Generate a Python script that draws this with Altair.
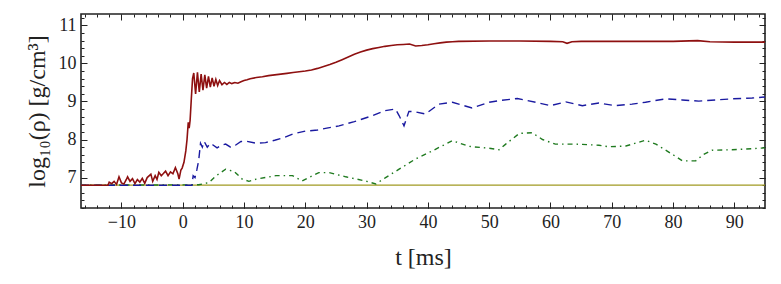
import altair as alt
import pandas as pd

# ---- data ----
red_t = [-16.6, -12.2, -12.0, -11.6, -11.2, -10.8, -10.4, -10.0, -9.6, -9.2, -9.0, -8.6, -8.2, -7.8,
         -7.4, -7.0, -6.6, -6.2, -5.8, -5.2, -4.9, -4.5, -4.2, -3.9, -3.5, -3.2, -2.8, -2.4, -2.0,
         -1.6, -1.2, -0.8, -0.6, -0.3, -0.1, 0.2, 0.5, 0.7, 0.9, 1.05, 1.2, 1.4, 1.6, 1.8, 2.1,
         2.4, 2.7, 3.0, 3.3, 3.6, 3.9, 4.2, 4.5, 4.8, 5.1, 5.4, 5.7, 6.0, 6.4, 6.8, 7.2, 7.6,
         8.0, 8.5, 9.0, 9.5, 10, 10.5, 11, 12, 13, 14, 15, 16, 17, 18, 19, 20, 21, 22, 23, 24, 25,
         26, 27, 28, 29, 30, 31, 32, 33, 34, 35, 36, 37, 38, 39, 40, 41, 42, 43, 44, 45, 50, 55,
         60, 62, 62.7, 63.5, 65, 70, 75, 80, 84, 86, 90, 95]
red_v = [6.8, 6.8, 6.88, 6.84, 6.9, 6.82, 7.02, 6.86, 6.83, 6.95, 7.02, 6.9, 6.97, 6.84,
         6.95, 6.88, 6.98, 6.85, 7.0, 7.09, 6.9, 7.05, 6.95, 7.14, 7.05, 7.1, 7.17, 7.05, 7.15,
         7.1, 7.26, 7.1, 6.96, 7.2, 7.25, 7.4, 7.7, 8.0, 8.45, 8.3, 8.5, 9.07, 9.6, 9.75, 9.2,
         9.77, 9.25, 9.72, 9.3, 9.7, 9.35, 9.66, 9.38, 9.62, 9.4, 9.58, 9.42, 9.55, 9.44, 9.5,
         9.45, 9.5, 9.47, 9.5, 9.48, 9.52, 9.55, 9.57, 9.6, 9.63, 9.65, 9.68, 9.7, 9.72, 9.74,
         9.76, 9.78, 9.8, 9.83, 9.87, 9.92, 9.97, 10.03, 10.1, 10.17, 10.24, 10.3, 10.35, 10.39,
         10.42, 10.45, 10.47, 10.49, 10.5, 10.51, 10.46, 10.47, 10.49, 10.52, 10.54, 10.56, 10.57,
         10.58, 10.59, 10.59, 10.58, 10.57, 10.53, 10.57, 10.58, 10.58, 10.58, 10.58, 10.6, 10.57,
         10.56, 10.56]

blue_t = [-16.6, 1.5, 1.7, 2.0, 2.3, 2.6, 2.9, 3.2, 3.5, 4.0, 4.5, 5.0, 5.6, 6.3, 7.0, 7.8, 8.6,
          9.5, 10.5, 12, 13.5, 15, 16.5, 18, 20, 22, 23.5, 25.5, 28, 31, 33, 34.7, 35.3, 36.1,
          36.9, 37.9, 39.6, 41.8, 44, 47.2, 50, 52, 54.6, 57.6, 60, 62.5, 65.2, 67.9, 70.6, 73.3,
          75.5, 78.8, 81.5, 84.2, 86.9, 89.6, 92.9, 95]
blue_v = [6.8, 6.8, 7.05, 7.0, 7.2, 7.45, 7.9, 7.8, 7.95, 7.8, 7.9, 7.85, 7.78, 7.85, 7.88, 7.8,
          7.85, 7.95, 7.95, 7.9, 7.92, 7.98, 8.05, 8.15, 8.22, 8.25, 8.3, 8.36, 8.47, 8.63, 8.76,
          8.8, 8.63, 8.36, 8.74, 8.73, 8.67, 8.93, 8.98, 8.83, 8.98, 9.03, 9.08, 8.98, 8.89, 8.99,
          8.89, 8.96, 8.89, 8.93, 8.98, 9.07, 9.04, 9.01, 9.04, 9.07, 9.09, 9.12]

green_t = [-16.6, 2.6, 4.3, 5.4, 7.0, 8.4, 9.7, 10.8, 12, 15.2, 17.9, 19.5, 22.2, 23.9, 26.6,
           29.8, 31.5, 33.1, 35.3, 38, 40.7, 44, 46.7, 50, 51.6, 52.7, 54.9, 57, 58.7, 60.8, 64.1,
           67.9, 69.5, 72.3, 75.5, 77.2, 79.9, 81.5, 83.7, 85, 86.4, 89.6, 92.9, 95]
green_v = [6.8, 6.81, 6.87, 7.04, 7.22, 7.16, 6.96, 6.9, 6.96, 7.05, 7.05, 6.91, 7.13, 7.13, 7.02,
           6.91, 6.83, 7.0, 7.22, 7.49, 7.7, 7.97, 7.82, 7.77, 7.73, 7.88, 8.16, 8.18, 8.0, 7.88,
           7.88, 7.85, 7.81, 7.83, 7.98, 7.88, 7.61, 7.44, 7.44, 7.61, 7.72, 7.73, 7.76, 7.78]

olive_t = [-16.6, 95]
olive_v = [6.8, 6.8]

x_major = [-10, 0, 10, 20, 30, 40, 50, 60, 70, 80, 90]
x_minor = list(range(-16, 96, 2))
y_major = [7, 8, 9, 10, 11]
y_minor = [round(6.2 + 0.2 * i, 1) for i in range(26)]

X_DOMAIN = [-16.6, 95]
Y_DOMAIN = [6.2, 11.3]
W, H = 684, 194
FONT = "Liberation Serif, Times New Roman, DejaVu Serif, serif"

red = pd.DataFrame({"t": red_t, "v": red_v})
blue = pd.DataFrame({"t": blue_t, "v": blue_v})
green = pd.DataFrame({"t": green_t, "v": green_v})
olive = pd.DataFrame({"t": olive_t, "v": olive_v})

xs = alt.Scale(domain=X_DOMAIN, nice=False, zero=False)
ys = alt.Scale(domain=Y_DOMAIN, nice=False, zero=False)


def line(df, color, dash=None, xaxis=None, yaxis=None, opacity=1.0, width=1.4):
    kw = dict(color=color, strokeWidth=width, opacity=opacity, clip=True)
    if dash:
        kw["strokeDash"] = dash
    return alt.Chart(df).mark_line(**kw).encode(
        x=alt.X("t:Q", scale=xs, axis=xaxis),
        y=alt.Y("v:Q", scale=ys, axis=yaxis),
    )


main_x = alt.Axis(values=x_major, title="t [ms]", ticks=False, domain=False, grid=False,
                  labelFontSize=18, titleFontSize=24, labelPadding=5, titlePadding=14,
                  labelFont=FONT, titleFont=FONT, titleFontWeight="normal",
                  labelColor="#222", titleColor="#222")
main_y = alt.Axis(values=y_major, title="log₁₀(ρ) [g/cm³]", ticks=False, domain=False,
                  grid=False, labelFontSize=18, titleFontSize=24, labelPadding=5,
                  titlePadding=9, labelFont=FONT, titleFont=FONT, titleFontWeight="normal",
                  labelColor="#222", titleColor="#222")


def tick_axis(orient, values, size, offset):
    return alt.Axis(orient=orient, values=values, tickSize=size, offset=offset, labels=False,
                    domain=False, grid=False, title=None, tickColor="#222", tickWidth=1)


layers = [
    line(olive, "#a09a22", width=1.2, xaxis=main_x, yaxis=main_y),
    line(green, "#1f7a1f", dash=[5, 4, 1.5, 4]),
    line(blue, "#1a1aa0", dash=[8, 5]),
    line(red, "#8e1010", width=1.6),
    # inward ticks at bottom & left
    line(olive, "#000", opacity=0, xaxis=tick_axis("top", x_major, 6, -H),
         yaxis=tick_axis("right", y_major, 6, -W)),
    line(olive, "#000", opacity=0, xaxis=tick_axis("top", x_minor, 3, -H),
         yaxis=tick_axis("right", y_minor, 3, -W)),
    # inward ticks at top & right
    line(olive, "#000", opacity=0, xaxis=tick_axis("bottom", x_major, 6, -H),
         yaxis=tick_axis("left", y_major, 6, -W)),
    line(olive, "#000", opacity=0, xaxis=tick_axis("bottom", x_minor, 3, -H),
         yaxis=tick_axis("left", y_minor, 3, -W)),
]

chart = (
    alt.layer(*layers)
    .resolve_axis(x="independent", y="independent")
    .properties(width=W, height=H, background="white",
                padding={"left": 17, "top": 5, "right": 5, "bottom": 5})
    .configure_view(stroke="#222", strokeWidth=1.6)
)

chart.save("out.html", embed_options={"renderer": "svg", "actions": False})
